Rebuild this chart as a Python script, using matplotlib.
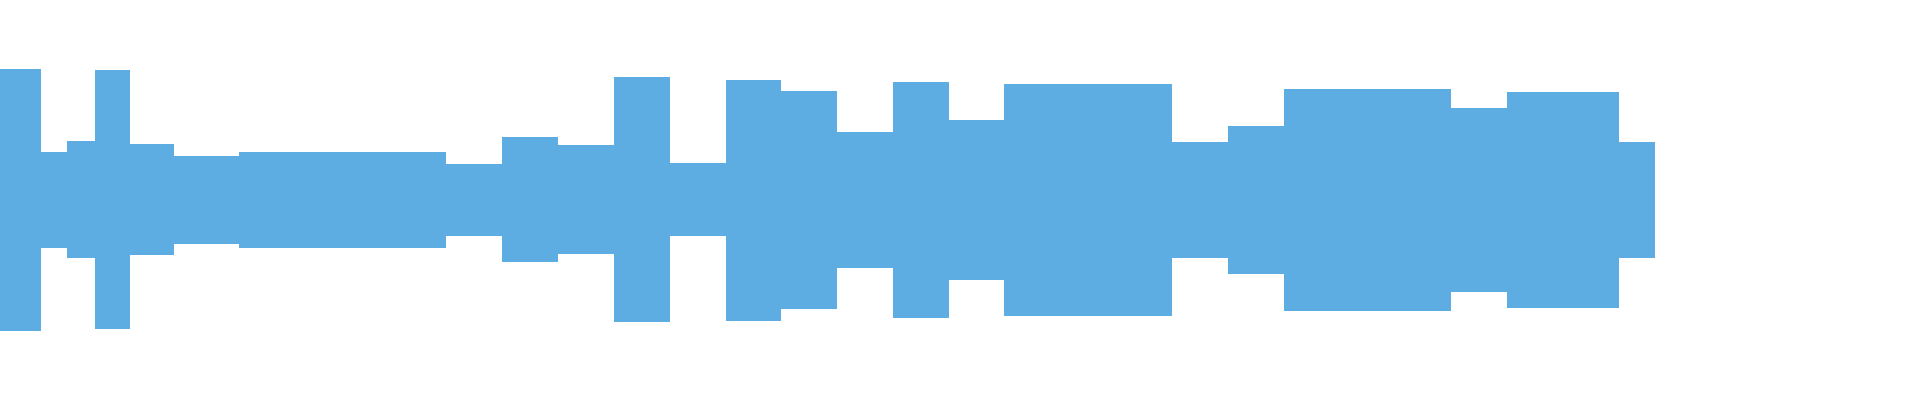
import matplotlib
matplotlib.use("Agg")
import matplotlib.pyplot as plt

# waveform peaks: segment edges (sample position) and max / min peak per segment
seg_edges = [0, 41, 67, 95, 130, 174, 239, 446, 502, 558, 614, 670, 726,
             781, 837, 893, 949, 1004, 1172, 1228, 1284, 1451, 1507, 1619, 1655]

peak_max = [0.655, 0.24, 0.295, 0.65, 0.28, 0.22, 0.24, 0.18, 0.315, 0.275,
            0.6125, 0.185, 0.6025, 0.5475, 0.34, 0.5925, 0.40, 0.58, 0.2925,
            0.37, 0.5575, 0.46, 0.54, 0.2925]

peak_min = [-0.655, -0.24, -0.29, -0.645, -0.275, -0.2175, -0.2375, -0.18,
            -0.31, -0.27, -0.6075, -0.18, -0.6025, -0.545, -0.3375, -0.5875,
            -0.3975, -0.5775, -0.29, -0.3675, -0.555, -0.46, -0.54, -0.29]

wave_color = "#5dade2"

fig = plt.figure(figsize=(19.2, 4), dpi=100)
ax = fig.add_axes([0, 0, 1, 1])

# filled envelope between min and max peaks
ax.stairs(peak_max, seg_edges, baseline=peak_min, fill=True,
          color=wave_color, linewidth=0)

ax.set_xlim(0, 1920)
ax.set_ylim(-1, 1)
ax.axis("off")

fig.savefig("out.png", dpi=100, facecolor="white")
